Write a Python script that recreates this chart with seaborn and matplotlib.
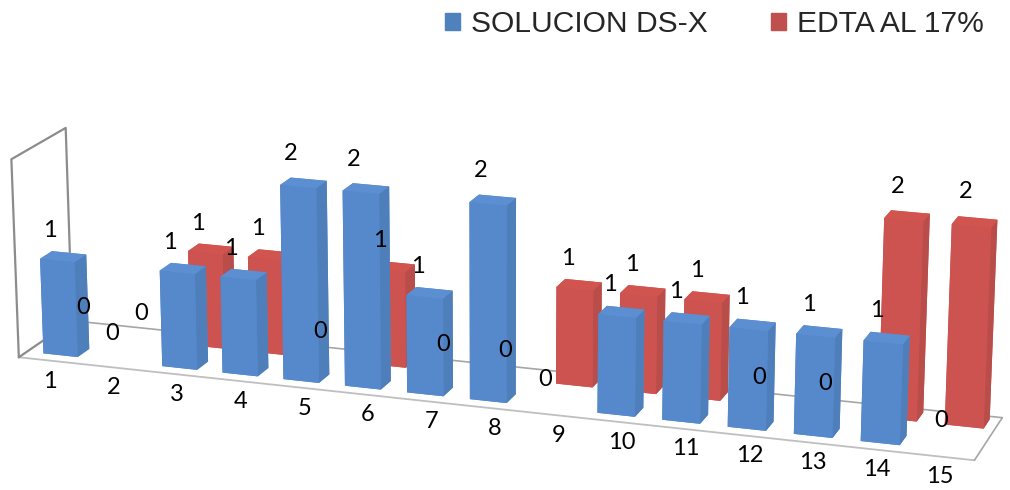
# -*- coding: utf-8 -*-
"""
3D column chart of two solutions, per sample
"""
import matplotlib
matplotlib.use("Agg")
from matplotlib import pyplot as plt
from matplotlib.patches import Patch
from mpl_toolkits.mplot3d import proj3d
import seaborn as sns

SAMPLES = [str(i) for i in range(1, 16)]
SOLUCION = [1, 0, 1, 1, 2, 2, 1, 2, 0, 1, 1, 1, 1, 1, 0]
EDTA = [0, 0, 1, 1, 0, 1, 0, 0, 1, 1, 1, 0, 0, 2, 2]
SERIES_NAMES = ["SOLUCION DS-X", "EDTA AL 17%"]

BLUE = ["#5589cc", "#5b8fd2", "#5589cc", "#5589cc", "#4f7fba", "#4f7fba"]
RED = ["#cd5350", "#d2544f", "#cd5350", "#cd5350", "#b94d4a", "#b94d4a"]

sns.set_theme(style="white")
plt.rcParams["font.family"] = ["Lato", "DejaVu Sans"]

XMAX = 15.02
ZMAX = 2.07

fig = plt.figure(figsize=(10.1, 4.9), dpi=100)
# 3D axes are always square, so make it wider than the figure
ax = fig.add_axes([-0.122, -0.8545, 1.2, 2.473], projection="3d")
ax.computed_zorder = False
ax.set_xlim(0, XMAX, view_margin=0)
ax.set_ylim(0, 1, view_margin=0)
ax.set_zlim(0, ZMAX, view_margin=0)
ax.set_box_aspect((1022, 135, 216), zoom=0.826)
ax.view_init(elev=17, azim=-71.5, roll=0)
ax.set_proj_type("persp", focal_length=0.6)
ax.set_axis_off()

# frame
ax.plot([0, XMAX], [0, 0], [0, 0], color="#bfbfbf", lw=1.3, zorder=1)
ax.plot([0, XMAX], [1, 1], [0, 0], color="#a6a6a6", lw=1.2, zorder=1)
ax.plot([XMAX, XMAX], [0, 1], [0, 0], color="#a6a6a6", lw=1.2, zorder=1)
ax.plot([0, 0, 0, 0, 0], [0, 1, 1, 0, 0], [0, 0, ZMAX, ZMAX, 0], color="#8c8c8c", lw=1.6, zorder=1)

WIDTH = 0.58
DEPTH = 0.22
BAR_X = 0.28
ROWS = {"blue": 0.15, "red": 0.71}
xs, ys, heights, colors = [], [], [], []
for row, values, faces in ((ROWS["red"], EDTA, RED), (ROWS["blue"], SOLUCION, BLUE)):
    for i, val in enumerate(values):
        if val > 0:
            xs.append(i + BAR_X)
            ys.append(row)
            heights.append(val)
            colors.extend(faces)
ax.bar3d(xs, ys, [0] * len(xs), WIDTH, DEPTH, heights, color=colors, shade=False,
         linewidth=0, edgecolor="none", zorder=2)

# value labels go through the axes projection, drawn as plain 2D text
proj = ax.get_proj()
for row, values in ((ROWS["blue"], SOLUCION), (ROWS["red"], EDTA)):
    for i, val in enumerate(values):
        px, py, _ = proj3d.proj_transform(i + 0.46, row, val * 1.02 + 0.285, proj)
        ax.annotate(str(val), (px, py), ha="center", va="center",
                    fontsize=17, color="black", zorder=5)

# the category labels run evenly along the floor, they ignore the perspective
for i, name in enumerate(SAMPLES):
    fig.text((50 + i * 63.57) / 1010, 1 - (381 + i * 6.79) / 490, name, ha="center", va="center",
             fontsize=17, color="black")

handles = [Patch(color="#4f81bd"), Patch(color="#c0504d")]
fig.legend(handles, SERIES_NAMES, ncol=2, loc="upper right", bbox_to_anchor=(0.9745, 0.979),
           frameon=False, prop={"family": "Liberation Sans", "size": 21.6},
           borderpad=0, borderaxespad=0,
           handlelength=0.5, handleheight=0.5, handletextpad=0.37, columnspacing=2.13)

fig.savefig("out.png", dpi=100)
